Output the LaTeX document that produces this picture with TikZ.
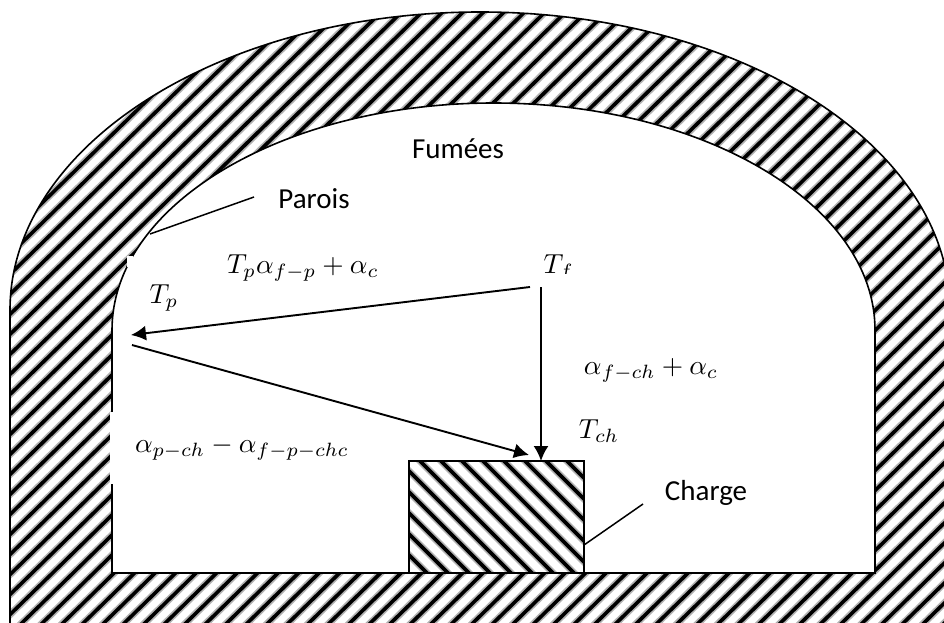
\documentclass[tikz,border=0pt]{standalone}
\usepackage{fontspec}
\setmainfont{Carlito}
\usetikzlibrary{arrows.meta}
\tikzset{
  wall/.style={line width=1.6pt,draw=black},
  soft/.style={line width=7pt,draw=black!30},
  core/.style={line width=3.6pt,draw=black},
  flow/.style={line width=1.9pt,draw=black,-{Latex[length=15pt,width=15pt]}},
  leader/.style={line width=1.5pt,draw=black},
  word/.style={font=\fontsize{29}{33}\selectfont,inner sep=0pt},
  eqn/.style={scale=2.75,inner sep=0pt},
}
\begin{document}
\begin{tikzpicture}[x=1pt,y=-1pt]
\useasboundingbox (0,0) rectangle (944,623);
\fill[white] (0,0) rectangle (944,623);
% wall hatch
\begin{scope}
  \clip (10,640) -- (10,310) arc[start angle=180,end angle=0,x radius=470,y radius=-298] -- (950,640) -- cycle;
  \foreach \k in {4,24.5,...,1700} {
    \draw[soft] (\k,0) -- (\k-717,700);
  }
  \foreach \k in {4,24.5,...,1700} {
    \draw[core] (\k,0) -- (\k-717,700);
  }
\end{scope}
\draw[wall] (10,640) -- (10,310) arc[start angle=180,end angle=0,x radius=470,y radius=-298] -- (950,640);
% furnace interior
\path[fill=white,wall] (112,573) -- (112,330) arc[start angle=180,end angle=0,x radius=381.5,y radius=-227] -- (875,573) -- cycle;
% load
\begin{scope}
  \clip (409,461) rectangle (584,573);
  \foreach \k in {-293,-272,...,300} {
    \draw[soft] (\k,0) -- (\k+700,700);
  }
  \foreach \k in {-293,-272,...,300} {
    \draw[core] (\k,0) -- (\k+700,700);
  }
\end{scope}
\node[draw=black,line width=1.6pt,minimum width=175pt,minimum height=112pt,inner sep=0pt] (load) at (496.5,517) {};
% gaps in the wall outline
\fill[white] (110.4,412) rectangle (114,484);
\fill[white] (127,256) rectangle (133,267);
% texts
\node[word] (fumees) at (458,149) {Fumées};
\node[word] (parois) at (314,199) {Parois};
\node[word] (charge) at (706,493) {Charge};
\node[eqn] (tp) at (164,298) {$T_p$};
\node[eqn] (eqa) at (303,268) {$T_p\alpha_{f-p}+\alpha_c$};
\node[eqn,anchor=base west] (tf) at (543,273) {$T_f$};
\fill[white] (530,274) rectangle (585,286);
\node[eqn] (eqb) at (651,370) {$\alpha_{f-ch}+\alpha_c$};
\node[eqn] (tch) at (599,431) {$T_{ch}$};
\node[eqn] (eqc) at (242,448) {$\alpha_{p-ch}-\alpha_{f-p-chc}$};
% connectors
\coordinate (aS) at (530,287);
\coordinate (aE) at (131,335);
\coordinate (bS) at (132,345);
\coordinate (bE) at (529,455);
\coordinate (cS) at (541,287);
\coordinate (cE) at (541,461);
\coordinate (pA) at (150,234);
\coordinate (pB) at (254,197);
\coordinate (qA) at (584,545);
\coordinate (qB) at (643,504);
\draw[flow] (aS) -- (aE);
\draw[flow] (bS) -- (bE);
\draw[flow] (cS) -- (cE);
\draw[leader] (pA) -- (pB);
\draw[leader] (qA) -- (qB);
\end{tikzpicture}
\end{document}
